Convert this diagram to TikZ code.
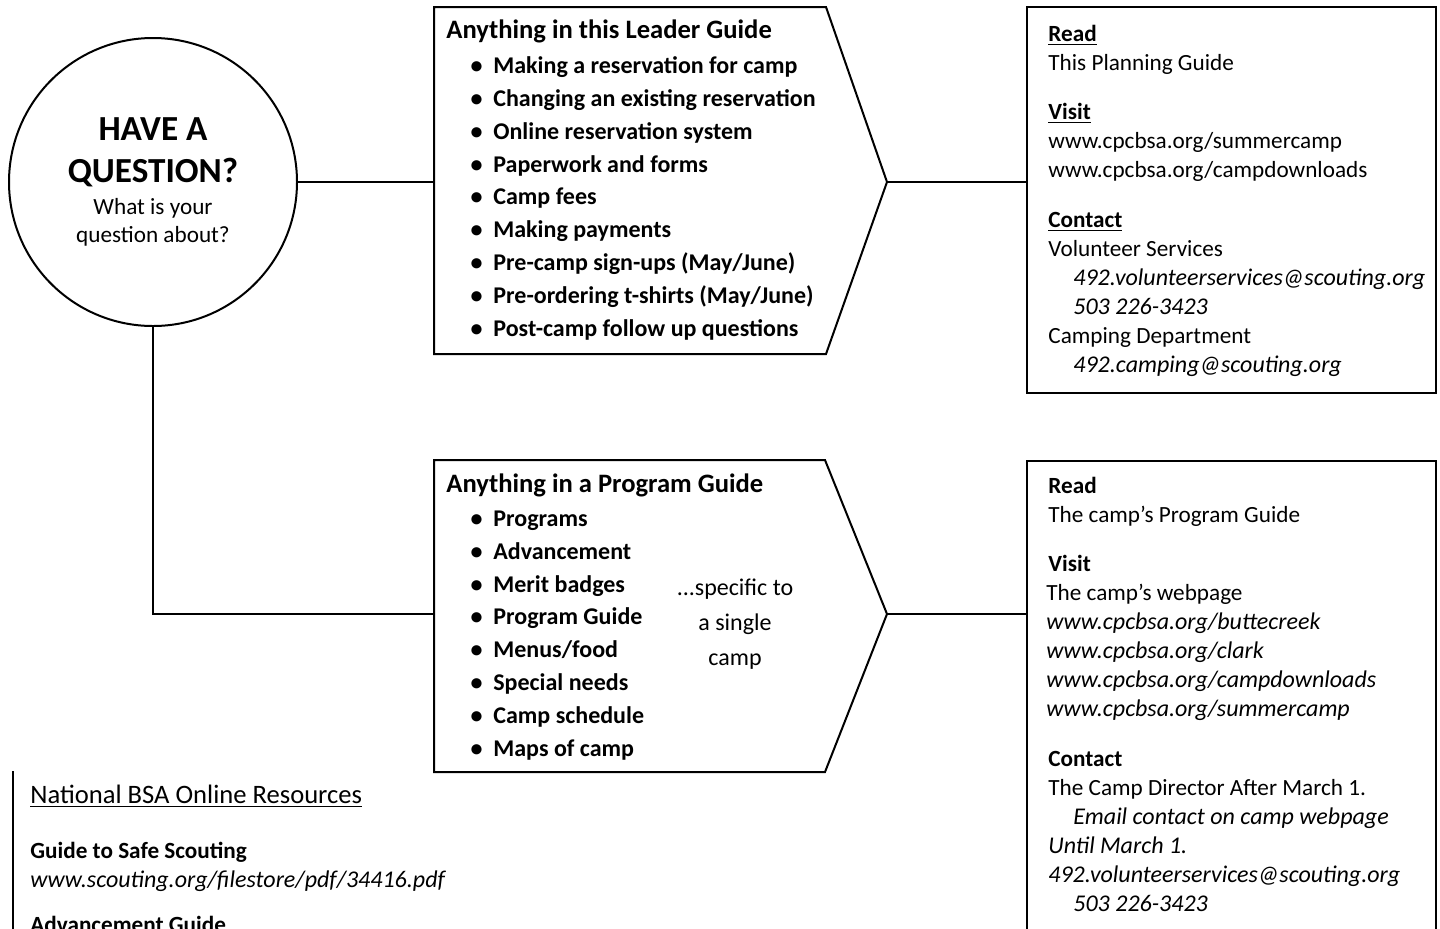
\documentclass[tikz,border=0pt]{standalone}
\usepackage{fontspec}
\setmainfont{Carlito}
\usepackage{xcolor}
\usetikzlibrary{positioning,calc}
\definecolor{ink}{HTML}{000000}
\tikzset{
  frame/.style={draw=ink,line width=1pt,line join=miter},
  wire/.style={draw=ink,line width=1pt},
  bubble/.style={circle,draw=ink,line width=1pt,minimum size=144pt,
                 inner sep=0pt,align=center,
                 font=\fontsize{11.6}{14}\selectfont},
  infobox/.style={draw=ink,line width=1pt,inner sep=0pt,minimum width=204.5pt},
  blocktext/.style={anchor=base west,inner sep=0pt,align=left,
                    font=\fontsize{11.6}{14.5}\selectfont},
  listtext/.style={anchor=base west,inner sep=0pt,align=left,
                   font=\fontsize{12}{16.4}\selectfont\bfseries},
  sidenote/.style={anchor=base,inner sep=0pt,align=center,
                   font=\fontsize{12}{17.5}\selectfont}
}
\newcommand{\itm}[1]{\hspace*{12.1pt}\makebox[11.4pt][l]{\textbullet}#1}
\newcommand{\ind}[1]{\hspace*{12.5pt}#1}
\newcommand{\ital}[1]{{\fontsize{12}{14.5}\selectfont\itshape #1}}
\newcommand{\bigq}{\fontsize{17.6}{21}\selectfont\bfseries}
\newcommand{\headq}{\fontsize{13.3}{16}\selectfont}

\begin{document}
\begin{tikzpicture}[x=0.5pt,y=-0.5pt]
    \useasboundingbox (0,0) rectangle (1440,928);

    \node[bubble] (question) at (153,182)
      {\bigq HAVE A\\[7pt] \bigq QUESTION?\\[2.25pt] What is your\\ question about?};

    \coordinate (leadL) at (434,182);
    \coordinate (leadT) at (887,182);
    \draw[frame] (434,7) -- (826,7) -- (leadT) -- (826,354) -- (434,354) -- cycle;
    \node[listtext] (leadlist) at (446,336)
      {\headq\bfseries Anything in this Leader Guide\\[1.2pt]
       \itm{Making a reservation for camp}\\
       \itm{Changing an existing reservation}\\
       \itm{Online reservation system}\\
       \itm{Paperwork and forms}\\
       \itm{Camp fees}\\
       \itm{Making payments}\\
       \itm{Pre-camp sign-ups (May/June)}\\
       \itm{Pre-ordering t-shirts (May/June)}\\
       \itm{Post-camp follow up questions}};

    \coordinate (progL) at (434,614);
    \coordinate (progT) at (887,614);
    \draw[frame] (434,460) -- (825,460) -- (progT) -- (825,772) -- (434,772) -- cycle;
    \node[listtext] (proglist) at (446,756)
      {\headq\bfseries Anything in a Program Guide\\[0.8pt]
       \itm{Programs}\\
       \itm{Advancement}\\
       \itm{Merit badges}\\
       \itm{Program Guide}\\
       \itm{Menus/food}\\
       \itm{Special needs}\\
       \itm{Camp schedule}\\
       \itm{Maps of camp}};
    \node[sidenote] (single) at (735,665) {...specific to\\ a single\\ camp};

    \node[infobox,minimum height=193pt] (infoA) at (1231.5,200) {};
    \node[blocktext] (readA) at (1048,372)
      {\textbf{\underline{Read}}\\
       This Planning Guide\\[10.25pt]
       \textbf{\underline{Visit}}\\
       www.cpcbsa.org/summercamp\\
       www.cpcbsa.org/campdownloads\\[10.25pt]
       \textbf{\underline{Contact}}\\
       Volunteer Services\\
       \ind{\ital{492.volunteerservices@scouting.org}}\\
       \ind{\ital{503 226-3423}}\\
       Camping Department\\
       \ind{\ital{492.camping@scouting.org}}};

    \node[infobox,minimum height=250pt] (infoB) at (1231.5,711) {};
    \node[blocktext] (readB) at (1048,911)
      {\textbf{Read}\\
       The camp’s Program Guide\\[10.25pt]
       \textbf{Visit}\\
       \hspace*{-1pt}The camp’s webpage\\
       \hspace*{-1pt}\ital{www.cpcbsa.org/buttecreek}\\
       \hspace*{-1pt}\ital{www.cpcbsa.org/clark}\\
       \hspace*{-1pt}\ital{www.cpcbsa.org/campdownloads}\\
       \hspace*{-1pt}\ital{www.cpcbsa.org/summercamp}\\[10.25pt]
       \textbf{Contact}\\
       The Camp Director After March 1.\\
       \ind{\ital{Email contact on camp webpage}}\\
       \ital{Until March 1.}\\
       \ital{492.volunteerservices@scouting.org}\\
       \ind{\ital{503 226-3423}}};

    \draw[wire] (13,771) -- (13,940);
    \node[blocktext] (national) at (30,932)
      {\headq\underline{National BSA Online Resources}\\[13pt]
       \textbf{Guide to Safe Scouting}\\
       \ital{www.scouting.org/filestore/pdf/34416.pdf}\\[8pt]
       \textbf{Advancement Guide}};

    \draw[wire] (question.east) -- (leadL);
    \draw[wire] (question.south) |- (progL);
    \draw[wire] (leadT) -- (leadT -| infoA.west);
    \draw[wire] (progT) -- (progT -| infoB.west);
  \end{tikzpicture}
\end{document}
